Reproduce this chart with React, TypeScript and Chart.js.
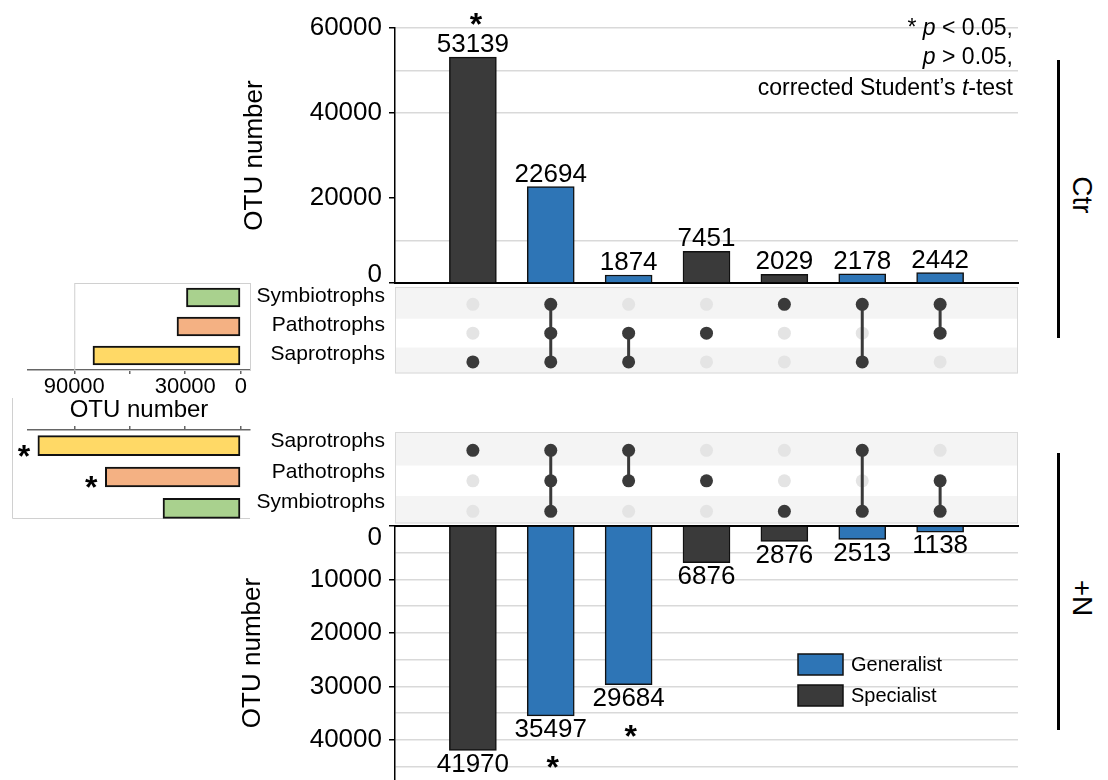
import React, { useEffect, useRef } from 'react';
import { Chart, registerables } from 'chart.js';

Chart.register(...registerables);

const FONT = "'Liberation Sans', Arial, Helvetica, sans-serif";
const BLUE = '#2e75b6';
const DARK = '#3a3a3a';
const GRID = '#d9d9d9';
const NONE = 'rgba(0,0,0,0)';

// ---------------- data ----------------
const combinations = ['Sap', 'Sap+Path+Sym', 'Sap+Path', 'Path', 'Sym', 'Sap+Sym', 'Path+Sym'];
const combinationType = ['Specialist', 'Generalist', 'Generalist', 'Specialist', 'Specialist', 'Generalist', 'Generalist'];
const membership = [
  ['Saprotrophs'],
  ['Saprotrophs', 'Pathotrophs', 'Symbiotrophs'],
  ['Saprotrophs', 'Pathotrophs'],
  ['Pathotrophs'],
  ['Symbiotrophs'],
  ['Saprotrophs', 'Symbiotrophs'],
  ['Pathotrophs', 'Symbiotrophs'],
];
const ctrOtu = [53139, 22694, 1874, 7451, 2029, 2178, 2442];
const nOtu = [41970, 35497, 29684, 6876, 2876, 2513, 1138];
const ctrSignificant = [true, false, false, false, false, false, false];
const nSignificant = [false, true, true, false, false, false, false];

const ctrGuilds = ['Symbiotrophs', 'Pathotrophs', 'Saprotrophs'];
const nGuilds = ['Saprotrophs', 'Pathotrophs', 'Symbiotrophs'];
const ctrGuildOtu = [29343, 34461, 79885];
const nGuildOtu = [109664, 73195, 42024];
const nGuildSignificant = [true, true, false];
const guildColors: Record<string, string> = {
  Saprotrophs: '#ffd966',
  Pathotrophs: '#f4b183',
  Symbiotrophs: '#a9d18e',
};

const ctrGridTicks = [0, 10000, 20000, 30000, 40000, 50000, 60000];
const ctrTickLabels = [20000, 40000, 60000];
const ctrVisibleGrid = [10000, 40000, 50000, 60000];
const nGridTicks = [0, 5000, 10000, 15000, 20000, 25000, 30000, 35000, 40000, 45000];
const nTickLabels = [10000, 20000, 30000, 40000];
const guildTicks = [0, 30000, 60000, 90000];
const guildTickLabels = ['0', '30000', '', '90000'];
const legendItems = ['Generalist', 'Specialist'];
const legendColors = [BLUE, DARK];

const noteLines: [string, boolean][][] = [
  [['* ', false], ['p', true], [' < 0.05,', false]],
  [['p', true], [' > 0.05,', false]],
  [['corrected Student\u2019s ', false], ['t', true], ['-test', false]],
];

// ---------------- helpers ----------------
const barColors = combinationType.map((t) => (t === 'Generalist' ? BLUE : DARK));

function fixVertical(width: number) {
  return (s: any) => {
    s.width = width;
    s.paddingTop = 0;
    s.paddingBottom = 0;
  };
}
function fixHorizontal(height: number) {
  return (s: any) => {
    s.height = height;
    s.paddingLeft = 0;
    s.paddingRight = 0;
  };
}
function setTicks(values: number[]) {
  return (s: any) => {
    s.ticks = values.map((v) => ({ value: v }));
  };
}

function barLabelPlugin(values: number[], sig: boolean[], below: boolean) {
  return {
    id: 'barLabels',
    afterDatasetsDraw(chart: any) {
      const ctx = chart.ctx;
      const bars = chart.getDatasetMeta(0).data;
      ctx.save();
      ctx.fillStyle = '#000';
      ctx.textAlign = 'center';
      bars.forEach((bar: any, i: number) => {
        ctx.font = `26px ${FONT}`;
        if (below) {
          ctx.textBaseline = 'top';
          ctx.fillText(String(values[i]), bar.x, bar.y + 1);
        } else {
          ctx.textBaseline = 'alphabetic';
          ctx.fillText(String(values[i]), bar.x, bar.y - 5);
        }
        if (sig[i]) {
          ctx.font = `bold 32px ${FONT}`;
          ctx.textBaseline = 'alphabetic';
          if (below) ctx.fillText('*', bar.x + 2, bar.y + 62);
          else ctx.fillText('*', bar.x + 3, bar.y - 22);
        }
      });
      ctx.restore();
    },
  };
}

function zeroLabelPlugin(dy: number) {
  return {
    id: 'zeroLabel',
    afterDraw(chart: any) {
      const { ctx, chartArea, scales } = chart;
      ctx.save();
      ctx.fillStyle = '#000';
      ctx.font = `26px ${FONT}`;
      ctx.textAlign = 'right';
      ctx.textBaseline = 'middle';
      ctx.fillText('0', chartArea.left - 13, scales.y.getPixelForValue(0) + dy);
      ctx.restore();
    },
  };
}

const notePlugin = {
  id: 'note',
  afterDraw(chart: any) {
    const { ctx, chartArea } = chart;
    const right = chartArea.right - 5;
    const baselines = [35, 64, 95];
    ctx.save();
    ctx.fillStyle = '#000';
    ctx.textBaseline = 'alphabetic';
    ctx.textAlign = 'left';
    noteLines.forEach((segs, li) => {
      let total = 0;
      const widths = segs.map(([t, it]) => {
        ctx.font = `${it ? 'italic ' : ''}23px ${FONT}`;
        const w = ctx.measureText(t).width;
        total += w;
        return w;
      });
      let x = right - total;
      segs.forEach(([t, it], k) => {
        ctx.font = `${it ? 'italic ' : ''}23px ${FONT}`;
        ctx.fillText(t, x, baselines[li]);
        x += widths[k];
      });
    });
    ctx.restore();
  },
};

const legendPlugin = {
  id: 'customLegend',
  afterDraw(chart: any) {
    const { ctx, chartArea } = chart;
    const x0 = chartArea.right - 220;
    const ys = [654, 685].map((v) => v - 520);
    ctx.save();
    legendItems.forEach((name, i) => {
      ctx.fillStyle = legendColors[i];
      ctx.fillRect(x0, ys[i], 45, 21);
      ctx.strokeStyle = '#111';
      ctx.lineWidth = 1.5;
      ctx.strokeRect(x0, ys[i], 45, 21);
      ctx.fillStyle = '#000';
      ctx.font = `20px ${FONT}`;
      ctx.textAlign = 'left';
      ctx.textBaseline = 'middle';
      ctx.fillText(name, x0 + 53, ys[i] + 11);
    });
    ctx.restore();
  },
};

const matrixBackground = {
  id: 'matrixBackground',
  beforeDatasetsDraw(chart: any) {
    const { ctx, chartArea: a, scales } = chart;
    const y = scales.y;
    ctx.save();
    ctx.fillStyle = '#f4f4f4';
    [0, 2].forEach((r) => {
      const y0 = r === 0 ? a.top : y.getPixelForValue(r - 0.5);
      const y1 = r === 2 ? a.bottom : y.getPixelForValue(r + 0.5);
      ctx.fillRect(a.left, y0, a.width, y1 - y0);
    });
    ctx.strokeStyle = GRID;
    ctx.lineWidth = 1;
    ctx.strokeRect(a.left + 0.5, a.top + 0.5, a.width - 1, a.height - 1);
    ctx.restore();
  },
};

// ---------------- configs ----------------
function ctrBarsConfig(): any {
  return {
    type: 'bar',
    data: {
      datasets: [
        {
          data: ctrOtu.map((v, i) => ({ x: i + 1, y: v })),
          backgroundColor: barColors,
          borderColor: '#111',
          borderWidth: 1.5,
          barThickness: 47,
        },
      ],
    },
    options: {
      responsive: false,
      animation: false,
      layout: { padding: { left: 0, right: 12, top: 28, bottom: 17 } },
      plugins: { legend: { display: false }, tooltip: { enabled: false } },
      scales: {
        x: {
          type: 'linear',
          min: 0,
          max: 8,
          offset: false,
          ticks: { display: false },
          grid: { display: false },
          border: { display: true, color: '#000', width: 2 },
          afterFit: fixHorizontal(0),
        },
        y: {
          min: 0,
          max: 60000,
          afterBuildTicks: setTicks(ctrGridTicks),
          afterFit: fixVertical(165),
          ticks: {
            autoSkip: false,
            callback: (v: number) => (ctrTickLabels.includes(Math.round(v)) ? String(Math.round(v)) : ''),
            font: { family: FONT, size: 26 },
            color: '#000',
            padding: 7,
          },
          grid: {
            color: (c: any) => (ctrVisibleGrid.includes(Math.round(c.tick.value)) ? GRID : NONE),
            tickColor: (c: any) => (Math.round(c.tick.value) % 20000 === 0 ? '#000' : NONE),
            tickLength: 6,
            lineWidth: 1.5,
          },
          border: { display: true, color: '#000', width: 1.5 },
          title: {
            display: true,
            text: 'OTU number',
            color: '#000',
            font: { family: FONT, size: 26 },
            padding: { top: 9, bottom: 0 },
          },
        },
      },
    },
    plugins: [barLabelPlugin(ctrOtu, ctrSignificant, false), zeroLabelPlugin(-8), notePlugin],
  };
}

function nBarsConfig(): any {
  return {
    type: 'bar',
    data: {
      datasets: [
        {
          data: nOtu.map((v, i) => ({ x: i + 1, y: v })),
          backgroundColor: barColors,
          borderColor: '#111',
          borderWidth: 1.5,
          barThickness: 47,
        },
      ],
    },
    options: {
      responsive: false,
      animation: false,
      layout: { padding: { left: 0, right: 12, top: 6, bottom: 0 } },
      plugins: { legend: { display: false }, tooltip: { enabled: false } },
      scales: {
        x: {
          type: 'linear',
          position: 'top',
          min: 0,
          max: 8,
          offset: false,
          ticks: { display: false },
          grid: { display: false },
          border: { display: true, color: '#000', width: 2 },
          afterFit: fixHorizontal(0),
        },
        y: {
          min: 0,
          max: 47500,
          reverse: true,
          afterBuildTicks: setTicks(nGridTicks),
          afterFit: fixVertical(165),
          ticks: {
            autoSkip: false,
            callback: (v: number) => (nTickLabels.includes(Math.round(v)) ? String(Math.round(v)) : ''),
            font: { family: FONT, size: 26 },
            color: '#000',
            padding: 7,
          },
          grid: {
            color: GRID,
            tickColor: (c: any) => (Math.round(c.tick.value) % 10000 === 0 ? '#000' : NONE),
            tickLength: 6,
            lineWidth: 1.5,
          },
          border: { display: true, color: '#000', width: 1.5 },
          title: {
            display: true,
            text: 'OTU number',
            color: '#000',
            font: { family: FONT, size: 26 },
            padding: { top: 7, bottom: 0 },
          },
        },
      },
    },
    plugins: [barLabelPlugin(nOtu, nSignificant, true), zeroLabelPlugin(12), legendPlugin],
  };
}

function matrixConfig(guilds: string[], labelOffset: number, padTop: number, padBottom: number): any {
  const active: { x: number; y: number }[] = [];
  const inactive: { x: number; y: number }[] = [];
  const lines: any[] = [];
  combinations.forEach((_, i) => {
    const rows: number[] = [];
    guilds.forEach((g, r) => {
      const pt = { x: i + 1, y: r };
      if (membership[i].includes(g)) {
        active.push(pt);
        rows.push(r);
      } else inactive.push(pt);
    });
    if (rows.length > 1) {
      lines.push({
        data: [
          { x: i + 1, y: Math.min(...rows) },
          { x: i + 1, y: Math.max(...rows) },
        ],
        showLine: true,
        borderColor: DARK,
        borderWidth: 3,
        pointRadius: 0,
        order: 1,
      });
    }
  });
  return {
    type: 'scatter',
    data: {
      datasets: [
        { data: active, backgroundColor: DARK, pointRadius: 6.5, pointBorderWidth: 0, order: 0 },
        ...lines,
        { data: inactive, backgroundColor: '#e4e4e4', pointRadius: 6.5, pointBorderWidth: 0, order: 2 },
      ],
    },
    options: {
      responsive: false,
      animation: false,
      layout: { padding: { left: 0, right: 12, top: padTop, bottom: padBottom } },
      plugins: { legend: { display: false }, tooltip: { enabled: false } },
      scales: {
        x: { type: 'linear', min: 0, max: 8, display: false },
        y: {
          type: 'linear',
          min: -0.6,
          max: 2.4,
          reverse: true,
          afterBuildTicks: (s: any) => {
            s.ticks = guilds.map((_, r) => ({ value: r }));
          },
          afterFit: fixVertical(165),
          ticks: {
            callback: (v: number) => guilds[v],
            font: { family: FONT, size: 21 },
            color: '#000',
            padding: 10,
            labelOffset,
          },
          grid: { display: false, drawTicks: false },
          border: { display: false },
        },
      },
    },
    plugins: [matrixBackground],
  };
}

function guildConfig(
  guilds: string[],
  values: number[],
  sig: boolean[] | null,
  axisTop: boolean,
  thickness: number
): any {
  const framePlugin = {
    id: 'frame',
    beforeDatasetsDraw(chart: any) {
      const { ctx, chartArea: a, scales } = chart;
      ctx.save();
      ctx.strokeStyle = '#d0d0d0';
      ctx.lineWidth = 1;
      if (!axisTop) {
        const x0 = scales.x.getPixelForValue(guildTicks[3]);
        ctx.strokeRect(x0 + 0.5, a.top + 0.5, a.right - x0, a.height);
      } else {
        ctx.beginPath();
        ctx.moveTo(12.5, 3);
        ctx.lineTo(12.5, a.bottom - 5.5);
        ctx.lineTo(a.right, a.bottom - 5.5);
        ctx.stroke();
      }
      ctx.restore();
    },
    afterDatasetsDraw(chart: any) {
      if (!sig) return;
      const ctx = chart.ctx;
      const bars = chart.getDatasetMeta(0).data;
      ctx.save();
      ctx.fillStyle = '#000';
      ctx.font = `bold 32px ${FONT}`;
      ctx.textAlign = 'center';
      ctx.textBaseline = 'alphabetic';
      bars.forEach((bar: any, i: number) => {
        if (sig[i]) ctx.fillText('*', bar.x - 14, bar.y + 21);
      });
      ctx.restore();
    },
  };
  return {
    type: 'bar',
    data: {
      labels: guilds,
      datasets: [
        {
          data: values,
          backgroundColor: guilds.map((g) => guildColors[g]),
          borderColor: '#111',
          borderWidth: 2,
          borderSkipped: false,
          barThickness: thickness,
        },
      ],
    },
    options: {
      indexAxis: 'y',
      responsive: false,
      animation: false,
      layout: axisTop
        ? { padding: { left: 28, right: 10, top: 0, bottom: 6 } }
        : { padding: { left: 28, right: 10, top: 13, bottom: 0 } },
      plugins: { legend: { display: false }, tooltip: { enabled: false } },
      scales: {
        y: { type: 'category', display: false },
        x: {
          type: 'linear',
          position: axisTop ? 'top' : 'bottom',
          min: -5000,
          max: 115000,
          reverse: true,
          afterBuildTicks: setTicks(guildTicks),
          afterFit: fixHorizontal(axisTop ? 35 : 60),
          ticks: {
            display: !axisTop,
            autoSkip: false,
            maxRotation: 0,
            callback: (_: number, i: number) => guildTickLabels[i],
            font: { family: FONT, size: 22 },
            color: '#000',
            padding: 0,
          },
          grid: { display: true, drawOnChartArea: false, tickLength: 4, color: '#666', lineWidth: 1.5 },
          border: { display: true, color: '#666', width: 1.5 },
          title: {
            display: !axisTop,
            text: 'OTU number',
            color: '#000',
            font: { family: FONT, size: 24 },
            padding: { top: 0, bottom: 5 },
          },
        },
      },
    },
    plugins: [framePlugin],
  };
}

// ---------------- components ----------------
function ChartCanvas(props: { left: number; top: number; width: number; height: number; make: () => any }) {
  const ref = useRef<HTMLCanvasElement>(null);
  useEffect(() => {
    const chart = new Chart(ref.current as HTMLCanvasElement, props.make());
    return () => chart.destroy();
  }, []);
  return (
    <canvas
      ref={ref}
      width={props.width}
      height={props.height}
      style={{ position: 'absolute', left: props.left, top: props.top, width: props.width, height: props.height }}
    />
  );
}

function SideLabel(props: { text: string; lineTop: number; lineHeight: number; textY: number }) {
  return (
    <>
      <div
        style={{
          position: 'absolute',
          left: 1057,
          top: props.lineTop,
          width: 3,
          height: props.lineHeight,
          background: '#000',
        }}
      />
      <div
        style={{
          position: 'absolute',
          left: 1082,
          top: props.textY,
          transform: 'translate(-50%, -50%) rotate(90deg)',
          font: `28px ${FONT}`,
          lineHeight: '1',
          whiteSpace: 'nowrap',
          color: '#000',
        }}
      >
        {props.text}
      </div>
    </>
  );
}

export default function App() {
  return (
    <div
      style={{
        position: 'fixed',
        left: 0,
        top: 0,
        width: 1108,
        height: 780,
        background: '#fff',
        overflow: 'hidden',
      }}
    >
      <ChartCanvas left={0} top={270} width={260} height={160} make={() => guildConfig(ctrGuilds, ctrGuildOtu, null, false, 19)} />
      <ChartCanvas left={0} top={395} width={260} height={135} make={() => guildConfig(nGuilds, nGuildOtu, nGuildSignificant, true, 20)} />
      <ChartCanvas left={230} top={0} width={800} height={300} make={ctrBarsConfig} />
      <ChartCanvas left={230} top={280} width={800} height={100} make={() => matrixConfig(ctrGuilds, -8, 7, 3)} />
      <ChartCanvas left={230} top={425} width={800} height={105} make={() => matrixConfig(nGuilds, -9, 7, 5)} />
      <ChartCanvas left={230} top={520} width={800} height={260} make={nBarsConfig} />
      <SideLabel text="Ctr" lineTop={60} lineHeight={278} textY={195} />
      <SideLabel text="+N" lineTop={453} lineHeight={277} textY={598} />
    </div>
  );
}
